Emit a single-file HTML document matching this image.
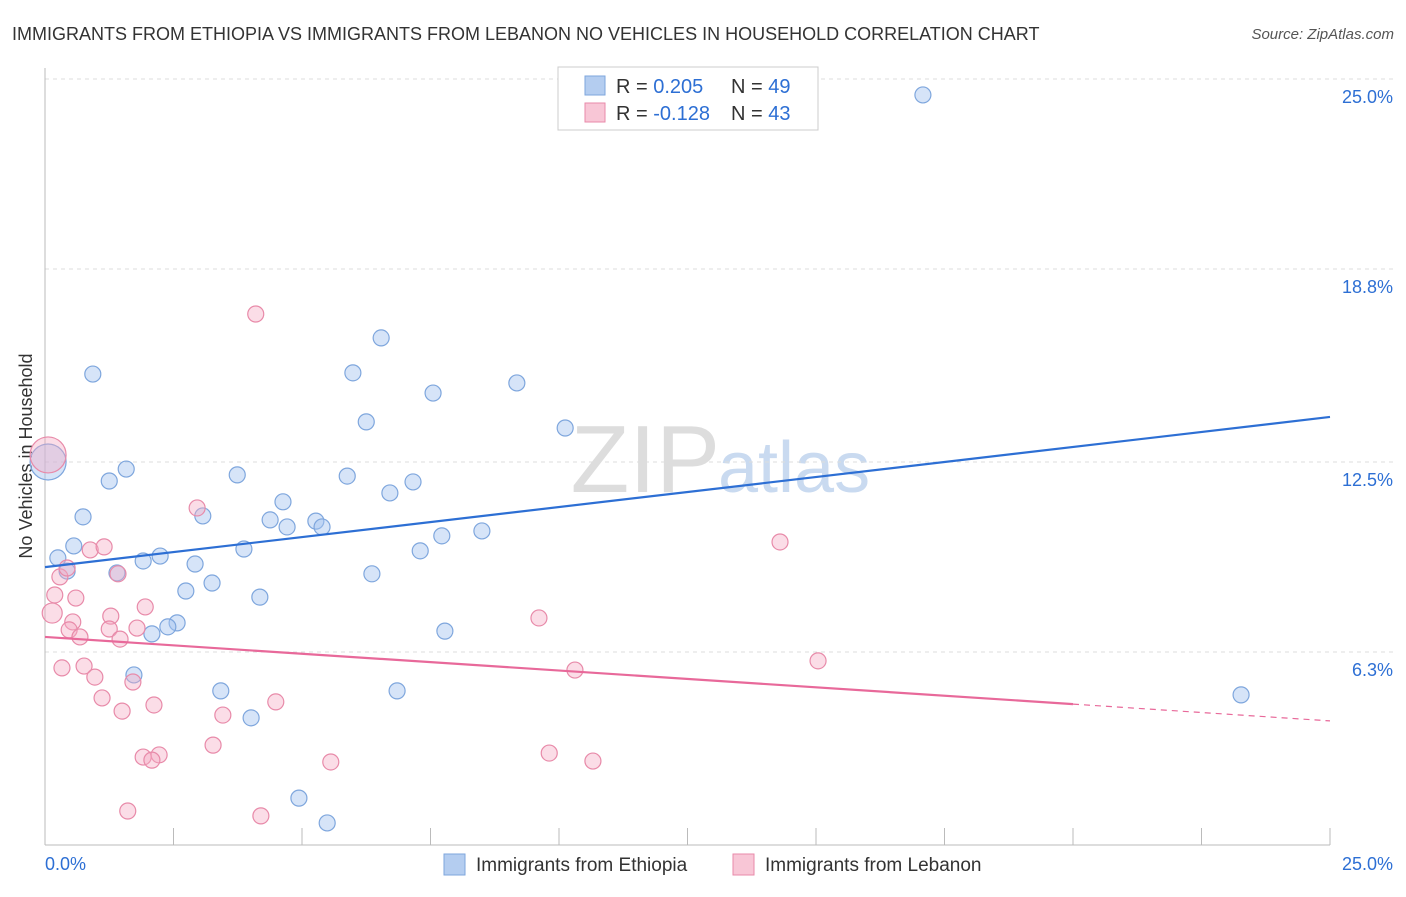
<!DOCTYPE html>
<html><head><meta charset="utf-8"><style>
body{margin:0;background:#fff;font-family:"Liberation Sans",sans-serif}
svg text{font-family:"Liberation Sans",sans-serif}
</style></head><body>
<svg id="c" width="1406" height="892" xmlns="http://www.w3.org/2000/svg">
<text x="12" y="40" font-size="18" fill="#333">IMMIGRANTS FROM ETHIOPIA VS IMMIGRANTS FROM LEBANON NO VEHICLES IN HOUSEHOLD CORRELATION CHART</text>
<text x="1394" y="39" font-size="15" fill="#555" font-style="italic" text-anchor="end">Source: ZipAtlas.com</text>
<text x="32" y="456" font-size="18" fill="#333" text-anchor="middle" transform="rotate(-90 32 456)">No Vehicles in Household</text>
<text x="720" y="492" font-size="96" fill="#ddd" text-anchor="end" font-family="Liberation Serif">ZIP</text>
<text x="718" y="492" font-size="72" fill="#c9daf0">atlas</text>
<g id="grid"></g><g id="axes"></g><g id="pts"></g><g id="lines"></g>
<g>
<rect x="558" y="67" width="260" height="63" fill="#fff" stroke="#ccc"/>
<rect x="585" y="76" width="20" height="19" fill="#b4cdf0" stroke="#7ea6dd"/>
<rect x="585" y="103" width="20" height="19" fill="#f8c6d6" stroke="#e88aa9"/>
<text x="616" y="93" font-size="20" fill="#333">R = <tspan fill="#2d6fd4">0.205</tspan></text>
<text x="731" y="93" font-size="20" fill="#333">N = <tspan fill="#2d6fd4">49</tspan></text>
<text x="616" y="120" font-size="20" fill="#333">R = <tspan fill="#2d6fd4">-0.128</tspan></text>
<text x="731" y="120" font-size="20" fill="#333">N = <tspan fill="#2d6fd4">43</tspan></text>
</g>
<g>
<rect x="444" y="854" width="21" height="21" fill="#b4cdf0" stroke="#7ea6dd"/>
<text x="476" y="871" font-size="19" fill="#333">Immigrants from Ethiopia</text>
<rect x="733" y="854" width="21" height="21" fill="#f8c6d6" stroke="#e88aa9"/>
<text x="765" y="871" font-size="19" fill="#333">Immigrants from Lebanon</text>
</g>
</svg>
<script>
const ethX=[17.08,6.54,0.93,5.99,9.18,7.55,6.25,10.12,1.58,3.74,5.88,1.25,7.16,6.71,4.63,0.74,3.07,4.38,5.27,4.71,5.39,8.50,7.72,3.87,0.56,0.25,7.30,1.91,2.24,2.92,0.43,1.40,6.36,3.25,2.74,4.18,2.57,2.39,2.08,7.78,1.73,3.42,6.85,4.01,23.27,4.94,5.49,0.06];
const ethY=[24.48,16.55,15.37,15.41,15.08,14.75,13.81,13.61,12.27,12.08,12.04,11.88,11.85,11.49,11.20,10.71,10.74,10.61,10.57,10.38,10.38,10.25,10.09,9.66,9.76,9.37,9.60,9.27,9.43,9.17,8.94,8.88,8.85,8.55,8.29,8.09,7.25,7.12,6.89,6.98,5.55,5.03,5.03,4.15,4.90,1.53,0.72,12.50];
const lebX=[4.10,2.96,14.30,0.88,1.15,0.29,1.42,0.43,0.19,0.60,1.95,0.14,1.28,9.61,0.54,0.47,1.25,1.79,0.68,1.46,0.33,0.76,10.31,15.04,0.97,1.71,1.11,2.12,4.49,1.50,3.46,3.27,9.81,1.91,2.22,2.08,5.56,10.66,1.61,4.20,0.06];
const lebY=[17.33,11.00,9.89,9.63,9.73,8.75,8.85,9.04,8.16,8.06,7.77,7.57,7.47,7.41,7.28,7.02,7.05,7.08,6.79,6.72,5.78,5.84,5.71,6.01,5.48,5.32,4.80,4.57,4.67,4.37,4.24,3.26,3.00,2.87,2.94,2.77,2.71,2.74,1.11,0.95,12.73];
const ethTrend=[9.07,13.97];
const lebTrend=[6.79,4.05];
const lebSolidEnd=20;
const yTicks=[25.0,18.8,12.5,6.3];
const yTickLabels=["25.0%","18.8%","12.5%","6.3%"];
const xTickCount=10;
const NS="http://www.w3.org/2000/svg";
const X0=45,X1=1330,Y0=845,Y1=79;
const sx=v=>X0+(v/25)*(X1-X0), sy=v=>Y0-(v/25)*(Y0-Y1);
function mk(p,t,a){const e=document.createElementNS(NS,t);for(const k in a)e.setAttribute(k,a[k]);document.getElementById(p).appendChild(e);return e;}
yTicks.forEach((t,i)=>{
 const l=mk('grid','line',{x1:X0,x2:1394,y1:sy(t),y2:sy(t),stroke:'#ddd','stroke-dasharray':'4,4'});
 
 
 const tx=mk('grid','text',{x:1393,y:sy(t)+24,'font-size':18,fill:'#2d6fd4','text-anchor':'end'});
 tx.textContent=yTickLabels[i];
 
 
});
const ax=mk('axes','line',{x1:X0,x2:X0,y1:68,y2:Y0,stroke:'#bbb'});


const bx=mk('axes','line',{x1:X0,x2:X1,y1:Y0,y2:Y0,stroke:'#bbb'});


for(let i=0;i<=xTickCount;i++){const x=sx(25*i/xTickCount);
 const t=mk('axes','line',{x1:x,x2:x,y1:828,y2:Y0,stroke:'#bbb'});
 
 }
const xl=mk('axes','text',{x:45,y:870,'font-size':18,fill:'#2d6fd4'});xl.textContent='0.0%';


const xr=mk('axes','text',{x:1393,y:870,'font-size':18,fill:'#2d6fd4','text-anchor':'end'});xr.textContent='25.0%';


ethX.forEach((v,i)=>{const big=i===ethX.length-1;
 const c=mk('pts','circle',{cx:sx(v),cy:sy(ethY[i]),r:big?18:8,fill:'rgba(164,196,240,0.45)',stroke:'#7ea6dd','stroke-width':1.2});
 
 });
lebX.forEach((v,i)=>{const big=i===lebX.length-1;
 const c=mk('pts','circle',{cx:sx(v),cy:sy(lebY[i]),r:big?18:(i===11?10:8),fill:'rgba(244,170,195,0.4)',stroke:'#e88aa9','stroke-width':1.2});
 
 });
const bl=mk('lines','line',{x1:sx(0),y1:sy(ethTrend[0]),x2:sx(25),y2:sy(ethTrend[1]),stroke:'#2d6fd4','stroke-width':2.2});


const ly=v=>lebTrend[0]+(lebTrend[1]-lebTrend[0])*v/25;
const pl=mk('lines','line',{x1:sx(0),y1:sy(ly(0)),x2:sx(lebSolidEnd),y2:sy(ly(lebSolidEnd)),stroke:'#e8699a','stroke-width':2.2});


const pd=mk('lines','line',{x1:sx(lebSolidEnd),y1:sy(ly(lebSolidEnd)),x2:sx(25),y2:sy(ly(25)),stroke:'#e8699a','stroke-width':1.2,'stroke-dasharray':'6,5'});


</script>
</body></html>
